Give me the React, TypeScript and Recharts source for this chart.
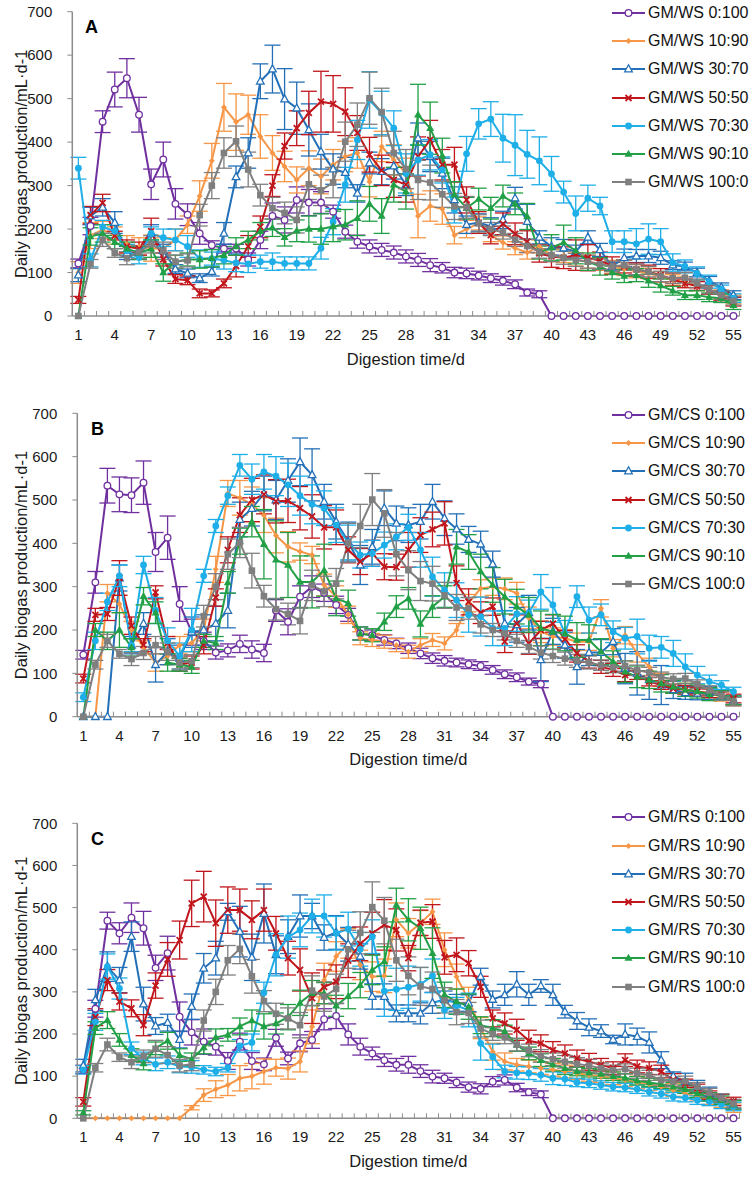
import React from 'react';
import { LineChart, Line, XAxis, YAxis, ErrorBar, Legend } from 'recharts';

const FONT = '"Liberation Sans", Arial, Helvetica, sans-serif';

// ---------- categories / ticks ----------
const days = Array.from({ length: 55 }, (_, i) => i + 1);
const xLabelTicks = [1, 4, 7, 10, 13, 16, 19, 22, 25, 28, 31, 34, 37, 40, 43, 46, 49, 52, 55];
const xBoundaryTicks = Array.from({ length: 56 }, (_, i) => i + 0.5);
const yTicks = [0, 100, 200, 300, 400, 500, 600, 700];
const ratioLabels = ['0:100', '10:90', '30:70', '50:50', '70:30', '90:10', '100:0'];

const colors = ['#7030A0', '#F79646', '#2470B8', '#C0161C', '#1EAEE8', '#22A046', '#7F7F7F'];
const markers = ['circleOpen', 'diamond', 'triangleOpen', 'cross', 'circle', 'triangle', 'square'];

// ---------- shared control (GM 100:0) ----------
const G100 = [0,120,175,145,133,147,165,150,125,128,232,300,375,402,337,278,248,237,221,303,289,307,401,440,501,469,375,338,313,307,280,252,250,213,200,192,175,161,148,140,134,129,125,119,114,117,107,102,91,87,88,75,61,48,35];
const G100e = [0,10,15,10,15,15,20,20,15,15,25,30,35,35,40,25,25,25,30,35,35,35,45,50,60,55,50,45,45,40,30,30,25,20,15,15,15,15,15,15,15,15,15,12,12,12,12,12,12,12,12,10,10,10,10];

// ---------- Panel A: GM/WS ----------
const WS0 = [121,207,447,521,547,463,303,360,258,233,190,163,155,155,130,175,230,221,267,261,261,240,194,171,160,152,146,137,129,117,111,100,98,93,87,81,73,54,50,0,0,0,0,0,0,0,0,0,0,0,0,0,0,0,0];
const WS10 = [100,185,198,185,165,160,156,155,175,210,276,357,480,446,463,413,375,344,313,340,321,348,367,375,309,390,359,328,230,253,246,186,200,213,186,169,156,146,160,140,138,130,125,120,113,108,103,98,90,83,78,70,60,50,38];
const WS30 = [94,230,250,215,145,145,190,150,108,98,87,102,190,320,375,540,568,499,478,428,378,338,330,282,352,332,345,302,409,367,328,267,210,215,206,221,271,217,181,160,156,148,181,152,114,134,138,138,134,117,114,100,81,66,48];
const WS50 = [37,232,260,185,160,155,195,130,85,82,52,52,75,115,160,205,300,391,432,467,493,488,470,421,371,335,313,302,367,405,348,348,267,215,186,212,189,171,144,137,134,140,134,127,116,114,107,102,94,84,75,69,60,45,33];
const WS70 = [340,128,205,195,150,135,190,180,175,160,132,132,128,122,120,125,125,121,121,121,156,217,302,405,497,467,432,328,359,371,336,244,373,442,453,409,393,372,357,327,285,236,271,253,171,171,166,177,171,123,114,98,79,61,41];
const WS90 = [0,183,190,170,155,145,155,100,125,130,130,133,140,160,175,195,203,181,196,200,200,206,210,225,258,230,302,286,463,432,369,279,248,269,248,276,258,229,146,157,169,150,125,114,100,92,94,81,70,58,48,48,43,41,25];

const WS0e = [10,20,25,40,45,40,35,40,35,25,25,10,10,10,15,20,30,30,30,30,25,15,15,15,15,15,15,15,15,15,12,12,12,10,10,10,10,8,8,0,0,0,0,0,0,0,0,0,0,0,0,0,0,0,0];
const WS10e = [25,30,20,20,20,20,30,25,25,20,35,40,55,65,45,50,40,35,30,40,40,35,35,35,35,35,35,35,50,35,35,20,20,15,15,15,15,15,15,15,15,15,15,15,15,15,15,12,12,12,12,12,10,10,10];
const WS30e = [15,20,20,25,15,15,20,15,10,10,10,10,25,25,35,40,55,70,60,60,40,35,35,20,25,30,30,25,35,35,35,30,20,20,20,20,25,40,15,20,20,15,15,15,10,20,15,15,15,10,10,10,10,10,10];
const WS50e = [8,20,20,10,15,15,30,15,10,10,10,8,10,25,25,25,25,30,40,50,70,65,55,40,40,35,40,40,45,45,35,40,30,25,20,25,25,25,20,25,25,35,30,20,20,15,15,15,15,15,10,10,10,10,10];
const WS70e = [25,15,15,15,15,15,15,20,25,25,20,15,20,20,20,15,20,15,15,15,25,30,40,45,65,50,40,45,35,35,30,30,40,35,40,55,70,55,55,40,25,40,30,20,25,25,35,35,30,20,15,15,15,10,10];
const WS90e = [0,20,20,15,15,15,20,20,15,15,20,20,20,20,20,20,20,20,25,30,35,35,35,40,40,40,40,40,70,60,40,30,25,25,25,25,25,30,15,30,40,30,20,20,15,15,15,15,15,10,10,10,10,10,10];

// ---------- Panel B: GM/CS ----------
const CS0 = [143,310,533,513,511,540,380,413,260,195,175,148,153,168,155,147,245,219,277,300,286,258,235,192,188,177,169,158,146,135,129,125,121,117,108,98,91,81,75,0,0,0,0,0,0,0,0,0,0,0,0,0,0,0,0];
const CS10 = [0,0,285,260,200,160,125,140,165,170,200,340,515,505,490,465,418,392,381,373,304,277,235,181,177,173,165,150,165,177,169,200,262,296,300,295,285,228,196,185,181,173,173,250,158,188,146,115,85,69,62,58,54,46,35];
const CS30 = [0,0,0,320,165,215,120,150,135,195,200,215,245,455,480,515,500,545,588,558,496,450,404,350,392,481,446,442,450,496,458,433,409,398,352,215,212,240,131,197,165,115,148,148,173,111,100,85,73,62,55,54,55,48,38];
const CS50 = [88,235,237,320,210,165,287,170,120,125,165,275,385,465,500,513,497,498,481,462,437,437,385,358,377,346,345,385,419,432,446,308,265,240,254,173,215,169,200,215,179,146,127,115,108,96,96,81,73,65,62,58,54,50,42];
const CS70 = [45,175,265,325,165,350,245,175,140,200,325,440,510,580,548,565,555,535,510,490,481,442,402,373,377,396,415,437,385,323,292,269,235,231,204,204,237,239,288,258,192,277,223,235,196,181,185,158,160,146,115,96,81,73,58];
const CS90 = [0,200,175,200,160,278,240,125,120,115,175,170,310,405,450,398,362,350,311,311,338,273,262,192,188,219,254,273,214,254,277,392,380,335,304,277,254,235,204,196,192,177,177,150,127,104,92,85,77,69,62,58,52,50,38];

const CS0e = [10,25,40,40,40,50,45,50,40,30,20,15,15,20,20,20,25,30,25,25,20,20,15,15,12,12,12,12,12,12,12,10,10,10,10,10,10,8,8,0,0,0,0,0,0,0,0,0,0,0,0,0,0,0,0];
const CS10e = [0,0,20,20,20,15,20,20,20,20,25,30,30,40,40,40,40,35,20,20,25,25,20,15,15,15,15,15,15,15,15,15,20,20,20,25,25,25,25,20,20,20,20,20,20,20,20,20,15,15,15,10,10,10,10];
const CS30e = [0,0,0,30,20,25,40,30,30,35,35,40,40,40,40,40,45,50,55,60,40,40,45,45,40,40,40,40,40,40,40,35,30,30,30,30,40,40,50,30,30,40,30,30,30,35,50,45,45,20,15,15,15,10,10];
const CS50e = [10,15,15,40,20,15,15,15,15,15,20,20,30,40,50,45,50,50,50,50,50,40,30,30,30,30,30,40,40,40,50,40,30,25,20,25,20,25,20,20,20,20,15,15,15,15,10,10,10,10,10,10,10,10,10];
const CS70e = [10,20,20,25,15,20,30,30,30,50,15,15,20,25,35,40,45,50,45,45,40,40,40,30,30,30,30,30,40,45,40,40,40,45,40,40,40,30,40,40,30,25,30,25,25,25,40,30,25,30,30,20,15,10,10];
const CS90e = [0,15,20,40,20,20,25,20,15,15,15,15,25,30,35,80,90,75,60,60,60,40,30,15,15,20,25,25,30,25,25,40,40,40,40,40,40,40,40,40,40,40,35,30,25,25,25,20,20,15,15,15,15,10,10];

// ---------- Panel C: GM/RS ----------
const RS0 = [116,260,469,439,476,451,357,392,241,204,182,170,136,182,136,128,191,142,178,186,235,243,199,170,154,138,127,127,112,99,95,85,74,70,87,91,73,62,57,0,0,0,0,0,0,0,0,0,0,0,0,0,0,0,0];
const RS10 = [0,0,0,0,0,0,0,0,0,25,55,69,79,95,100,111,120,118,135,217,328,384,415,364,336,338,471,439,463,490,400,336,281,214,158,135,127,123,119,115,111,107,103,100,95,91,85,81,75,67,59,51,43,36,24];
const RS30 = [125,281,360,328,431,271,219,227,187,265,356,380,490,443,382,486,388,431,480,480,429,441,413,384,289,289,249,249,249,274,282,274,273,336,282,293,318,293,314,293,253,231,216,207,187,199,194,180,138,100,87,75,59,47,32];
const RS50 = [39,240,328,277,261,221,315,377,423,510,526,463,494,494,471,494,439,380,352,285,312,324,374,414,439,459,447,380,464,467,382,388,368,312,237,225,210,184,178,162,154,142,134,127,119,138,123,119,111,91,83,71,55,47,40];
const RS70 = [115,229,360,308,166,142,128,133,123,122,115,111,120,172,180,298,388,430,447,480,480,439,449,401,431,302,306,311,318,338,257,267,257,178,146,111,108,107,103,95,93,85,83,79,75,73,69,63,58,51,49,43,40,33,28];
const RS90 = [13,214,233,186,150,130,166,184,150,140,168,192,198,218,232,218,225,240,274,297,297,267,290,316,352,372,506,471,451,392,293,277,265,221,214,206,174,154,138,127,119,111,108,105,100,96,89,85,81,75,69,59,51,43,32];

const RS0e = [10,20,20,25,35,40,30,40,35,30,30,20,20,20,20,15,20,15,20,20,25,30,25,20,15,15,15,20,15,15,12,12,12,12,12,12,10,8,8,0,0,0,0,0,0,0,0,0,0,0,0,0,0,0,0];
const RS10e = [0,0,0,0,0,0,0,0,0,5,15,20,25,30,30,30,20,25,25,40,40,35,35,35,35,40,40,35,30,30,40,30,30,25,20,20,15,15,15,15,15,15,15,15,15,15,15,15,15,15,10,10,10,10,10];
const RS30e = [15,25,35,30,35,40,20,20,20,30,35,40,20,60,55,70,45,40,50,30,30,40,40,30,30,30,20,20,25,25,20,20,20,20,20,25,30,25,15,25,15,20,20,15,10,25,20,25,20,10,20,15,15,10,10];
const RS50e = [10,20,25,20,20,25,30,40,45,55,60,55,55,50,45,50,40,40,50,60,40,40,40,40,50,60,50,30,30,40,40,40,30,25,20,25,25,25,20,20,20,20,20,15,15,15,15,15,15,15,10,10,10,10,10];
const RS70e = [10,20,30,25,15,15,15,15,15,15,10,10,10,15,20,25,50,50,40,40,50,40,40,40,40,60,50,50,40,40,20,20,40,40,30,15,15,15,15,15,15,10,10,10,10,10,10,10,10,10,10,10,10,10,10];
const RS90e = [5,15,20,15,15,15,15,20,15,15,15,20,15,20,25,30,25,30,30,30,25,25,30,30,35,35,40,50,50,60,30,30,30,20,20,15,15,15,15,15,15,10,10,10,10,10,10,10,10,10,10,10,10,10,10];

// ---------- drawing helpers ----------
function Marker({ cx, cy, kind, color }: any) {
  if (cx == null || cy == null || isNaN(cx) || isNaN(cy)) return null;
  switch (kind) {
    case 'circleOpen':
      return <circle cx={cx} cy={cy} r={3.3} fill="#fff" stroke={color} strokeWidth={1.3} />;
    case 'diamond':
      return <path d={`M${cx} ${cy - 3}L${cx + 3} ${cy}L${cx} ${cy + 3}L${cx - 3} ${cy}Z`} fill={color} />;
    case 'triangleOpen':
      return <path d={`M${cx} ${cy - 4.2}L${cx + 3.8} ${cy + 2.8}L${cx - 3.8} ${cy + 2.8}Z`} fill="#fff" stroke={color} strokeWidth={1.3} />;
    case 'cross':
      return <path d={`M${cx - 3} ${cy - 3}L${cx + 3} ${cy + 3}M${cx + 3} ${cy - 3}L${cx - 3} ${cy + 3}`} stroke={color} strokeWidth={1.8} fill="none" />;
    case 'circle':
      return <circle cx={cx} cy={cy} r={3.4} fill={color} />;
    case 'triangle':
      return <path d={`M${cx} ${cy - 4.2}L${cx + 4} ${cy + 2.8}L${cx - 4} ${cy + 2.8}Z`} fill={color} />;
    case 'square':
      return <rect x={cx - 3.3} y={cy - 3.3} width={6.6} height={6.6} fill={color} />;
    default:
      return null;
  }
}

const XTick = (props: any) => {
  const { x, y, payload } = props;
  const v = payload.value;
  if (Number.isInteger(v)) {
    return (
      <text x={x} y={y + 24} textAnchor="middle" fontSize={15} fontFamily={FONT} fill="#1a1a1a">
        {v}
      </text>
    );
  }
  return <line x1={x} y1={y} x2={x} y2={y - 5} stroke="#8c8c8c" strokeWidth={1} />;
};

const YLabel = (props: any) => {
  const { viewBox, letter, letterX } = props;
  const cy = viewBox.y + viewBox.height / 2;
  return (
    <g>
      <text
        x={21}
        y={cy}
        transform={`rotate(-90 21 ${cy})`}
        textAnchor="middle"
        dominantBaseline="central"
        fontSize={16.5}
        fontFamily={FONT}
        fill="#1a1a1a"
      >
        Daily biogas production/mL·d-1
      </text>
      <text x={letterX} y={viewBox.y + 21.5} fontSize={18} fontWeight="bold" fontFamily={FONT} fill="#000">
        {letter}
      </text>
    </g>
  );
};

const XLabel = (props: any) => {
  const { viewBox } = props;
  return (
    <text
      x={viewBox.x + viewBox.width / 2}
      y={viewBox.y + 48.5}
      textAnchor="middle"
      fontSize={16.5}
      fontFamily={FONT}
      fill="#1a1a1a"
    >
      Digestion time/d
    </text>
  );
};

const makeLegend = (names: string[], top: number) => () => (
  <div style={{ position: 'relative', width: 755, height: 0 }}>
    {names.map((n, i) => (
      <div
        key={n}
        style={{
          position: 'absolute',
          left: 611,
          top: top + i * 28.2 - 10,
          height: 20,
          display: 'flex',
          alignItems: 'center',
          whiteSpace: 'nowrap',
        }}
      >
        <svg width={35} height={20} style={{ display: 'block' }}>
          <line x1={1} y1={10} x2={34} y2={10} stroke={colors[i]} strokeWidth={2} />
          <Marker cx={17.5} cy={10} kind={markers[i]} color={colors[i]} />
        </svg>
        <span style={{ fontSize: 16, fontFamily: FONT, color: '#111', marginLeft: 2, lineHeight: '20px' }}>{n}</span>
      </div>
    ))}
  </div>
);

type PanelProps = {
  top: number;
  height: number;
  marginTop: number;
  marginBottom: number;
  plotLeft: number;
  letter: string;
  letterX: number;
  prefix: string;
  values: number[][];
  errors: number[][];
  legendTop: number;
};

function Panel(p: PanelProps) {
  const data = days.map((d, i) => {
    const row: any = { day: d };
    p.values.forEach((s, k) => {
      row[`v${k}`] = s[i];
      row[`e${k}`] = p.errors[k][i];
    });
    return row;
  });
  const names = ratioLabels.map((r) => `${p.prefix} ${r}`);
  const xTicks = [...xBoundaryTicks, ...xLabelTicks].sort((a, b) => a - b);
  return (
    <div style={{ position: 'absolute', left: 0, top: p.top, width: 755, height: p.height }}>
      <LineChart
        width={755}
        height={p.height}
        data={data}
        margin={{ top: p.marginTop, right: 15.5, bottom: p.marginBottom, left: p.plotLeft - 60 }}
      >
        <XAxis
          dataKey="day"
          type="number"
          domain={[0.5, 55.5]}
          ticks={xTicks}
          interval={0}
          tickSize={0}
          tickMargin={0}
          tickLine={false}
          tick={<XTick />}
          axisLine={{ stroke: '#8c8c8c', strokeWidth: 1.5 }}
          height={50}
          label={<XLabel />}
        />
        <YAxis
          type="number"
          domain={[0, 700]}
          ticks={yTicks}
          interval={0}
          width={60}
          tickSize={5}
          tickMargin={15}
          tick={{ fontSize: 15, fill: '#1a1a1a', fontFamily: FONT }}
          tickLine={{ stroke: '#8c8c8c' }}
          axisLine={{ stroke: '#8c8c8c', strokeWidth: 1.5 }}
          label={<YLabel letter={p.letter} letterX={p.letterX} />}
        />
        {p.values.map((_, k) => (
          <Line
            key={`v${k}`}
            dataKey={`v${k}`}
            name={names[k]}
            stroke={colors[k]}
            strokeWidth={2}
            isAnimationActive={false}
            activeDot={false}
            dot={(dp: any) => (
              <Marker key={`m${k}-${dp.index}`} cx={dp.cx} cy={dp.cy} kind={markers[k]} color={colors[k]} />
            )}
          >
            <ErrorBar dataKey={`e${k}`} width={8} stroke={colors[k]} strokeWidth={1.3} direction="y" />
          </Line>
        ))}
        <Legend
          layout="vertical"
          align="center"
          verticalAlign="middle"
          content={makeLegend(names, p.legendTop)}
          wrapperStyle={{ position: 'absolute', left: 0, top: 0, width: 755, height: 0 }}
        />
      </LineChart>
    </div>
  );
}

export default function App() {
  return (
    <div style={{ position: 'absolute', left: 0, top: 0, width: 755, height: 1179, background: '#fff' }}>
      <Panel
        top={0}
        height={380}
        marginTop={11.7}
        marginBottom={14}
        plotLeft={72.3}
        letter="A"
        letterX={85}
        prefix="GM/WS"
        values={[WS0, WS10, WS30, WS50, WS70, WS90, G100]}
        errors={[WS0e, WS10e, WS30e, WS50e, WS70e, WS90e, G100e]}
        legendTop={13}
      />
      <Panel
        top={400}
        height={380}
        marginTop={13.3}
        marginBottom={13.3}
        plotLeft={77.3}
        letter="B"
        letterX={91}
        prefix="GM/CS"
        values={[CS0, CS10, CS30, CS50, CS70, CS90, G100]}
        errors={[CS0e, CS10e, CS30e, CS50e, CS70e, CS90e, G100e]}
        legendTop={15}
      />
      <Panel
        top={810}
        height={369}
        marginTop={13.3}
        marginBottom={10.7}
        plotLeft={77.3}
        letter="C"
        letterX={91}
        prefix="GM/RS"
        values={[RS0, RS10, RS30, RS50, RS70, RS90, G100]}
        errors={[RS0e, RS10e, RS30e, RS50e, RS70e, RS90e, G100e]}
        legendTop={7.3}
      />
    </div>
  );
}
